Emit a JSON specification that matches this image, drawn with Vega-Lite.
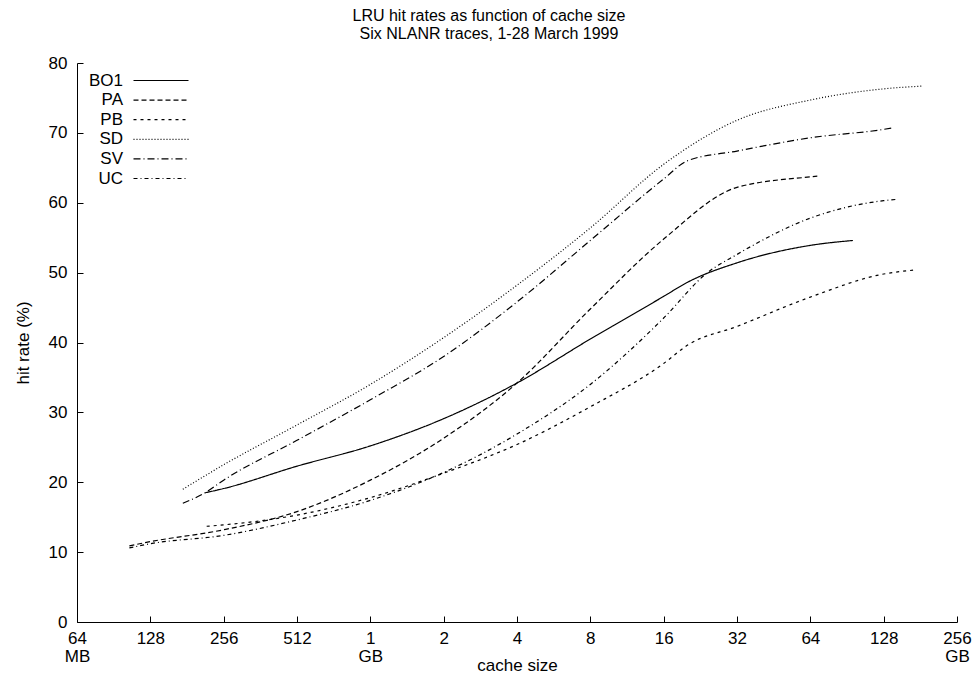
{
  "$schema": "https://vega.github.io/schema/vega-lite/v6.json",
  "width": 880,
  "height": 559,
  "autosize": {"type": "none"},
  "padding": {"left": 77, "top": 63, "right": 22, "bottom": 59},
  "background": "white",
  "config": {
    "view": {"stroke": null},
    "font": "Liberation Sans",
    "axis": {
      "grid": false,
      "domainColor": "black",
      "tickColor": "black",
      "labelColor": "black",
      "titleColor": "black",
      "labelFont": "Liberation Sans",
      "titleFont": "Liberation Sans",
      "labelFontSize": 17,
      "titleFontSize": 17,
      "titleFontWeight": "normal",
      "tickSize": -6,
      "domainWidth": 1,
      "tickWidth": 1
    }
  },
  "title": {
    "text": ["LRU hit rates as function of cache size", "Six NLANR traces, 1-28 March 1999"],
    "fontSize": 16,
    "fontWeight": "normal",
    "font": "Liberation Sans",
    "color": "black",
    "anchor": "middle",
    "dx": -28,
    "offset": 12,
    "lineHeight": 18
  },
  "data": {
    "values": [
      {"trace": "BO1", "size_mb": 215, "hit_rate": 18.5},
      {"trace": "BO1", "size_mb": 256, "hit_rate": 19.1},
      {"trace": "BO1", "size_mb": 512, "hit_rate": 22.3},
      {"trace": "BO1", "size_mb": 1024, "hit_rate": 25.2},
      {"trace": "BO1", "size_mb": 2048, "hit_rate": 29.1},
      {"trace": "BO1", "size_mb": 4096, "hit_rate": 34.2},
      {"trace": "BO1", "size_mb": 8192, "hit_rate": 40.5},
      {"trace": "BO1", "size_mb": 16384, "hit_rate": 46.6},
      {"trace": "BO1", "size_mb": 20480, "hit_rate": 48.6},
      {"trace": "BO1", "size_mb": 32768, "hit_rate": 51.4},
      {"trace": "BO1", "size_mb": 65536, "hit_rate": 53.9},
      {"trace": "BO1", "size_mb": 98000, "hit_rate": 54.6},

      {"trace": "PA", "size_mb": 105, "hit_rate": 10.9},
      {"trace": "PA", "size_mb": 128, "hit_rate": 11.5},
      {"trace": "PA", "size_mb": 256, "hit_rate": 13.2},
      {"trace": "PA", "size_mb": 512, "hit_rate": 15.8},
      {"trace": "PA", "size_mb": 1024, "hit_rate": 20.3},
      {"trace": "PA", "size_mb": 2048, "hit_rate": 26.3},
      {"trace": "PA", "size_mb": 4096, "hit_rate": 34.2},
      {"trace": "PA", "size_mb": 8192, "hit_rate": 44.8},
      {"trace": "PA", "size_mb": 16384, "hit_rate": 54.8},
      {"trace": "PA", "size_mb": 32768, "hit_rate": 62.2},
      {"trace": "PA", "size_mb": 65536, "hit_rate": 63.7},
      {"trace": "PA", "size_mb": 70000, "hit_rate": 63.8},

      {"trace": "PB", "size_mb": 218, "hit_rate": 13.7},
      {"trace": "PB", "size_mb": 256, "hit_rate": 13.9},
      {"trace": "PB", "size_mb": 512, "hit_rate": 15.3},
      {"trace": "PB", "size_mb": 1024, "hit_rate": 17.8},
      {"trace": "PB", "size_mb": 2048, "hit_rate": 21.3},
      {"trace": "PB", "size_mb": 4096, "hit_rate": 25.4},
      {"trace": "PB", "size_mb": 8192, "hit_rate": 30.8},
      {"trace": "PB", "size_mb": 16384, "hit_rate": 37.0},
      {"trace": "PB", "size_mb": 20480, "hit_rate": 39.6},
      {"trace": "PB", "size_mb": 32768, "hit_rate": 42.3},
      {"trace": "PB", "size_mb": 65536, "hit_rate": 46.5},
      {"trace": "PB", "size_mb": 131072, "hit_rate": 49.8},
      {"trace": "PB", "size_mb": 179000, "hit_rate": 50.4},

      {"trace": "SD", "size_mb": 174, "hit_rate": 19.0},
      {"trace": "SD", "size_mb": 256, "hit_rate": 22.5},
      {"trace": "SD", "size_mb": 512, "hit_rate": 28.2},
      {"trace": "SD", "size_mb": 1024, "hit_rate": 34.0},
      {"trace": "SD", "size_mb": 2048, "hit_rate": 40.7},
      {"trace": "SD", "size_mb": 4096, "hit_rate": 48.2},
      {"trace": "SD", "size_mb": 8192, "hit_rate": 56.4},
      {"trace": "SD", "size_mb": 16384, "hit_rate": 65.5},
      {"trace": "SD", "size_mb": 32768, "hit_rate": 71.8},
      {"trace": "SD", "size_mb": 65536, "hit_rate": 74.7},
      {"trace": "SD", "size_mb": 131072, "hit_rate": 76.3},
      {"trace": "SD", "size_mb": 190000, "hit_rate": 76.7},

      {"trace": "SV", "size_mb": 174, "hit_rate": 17.0},
      {"trace": "SV", "size_mb": 215, "hit_rate": 18.5},
      {"trace": "SV", "size_mb": 256, "hit_rate": 20.3},
      {"trace": "SV", "size_mb": 512, "hit_rate": 26.0},
      {"trace": "SV", "size_mb": 1024, "hit_rate": 31.8},
      {"trace": "SV", "size_mb": 2048, "hit_rate": 38.0},
      {"trace": "SV", "size_mb": 4096, "hit_rate": 45.8},
      {"trace": "SV", "size_mb": 8192, "hit_rate": 54.6},
      {"trace": "SV", "size_mb": 16384, "hit_rate": 63.4},
      {"trace": "SV", "size_mb": 20480, "hit_rate": 66.0},
      {"trace": "SV", "size_mb": 32768, "hit_rate": 67.4},
      {"trace": "SV", "size_mb": 65536, "hit_rate": 69.3},
      {"trace": "SV", "size_mb": 131072, "hit_rate": 70.5},
      {"trace": "SV", "size_mb": 142000, "hit_rate": 70.7},

      {"trace": "UC", "size_mb": 105, "hit_rate": 10.6},
      {"trace": "UC", "size_mb": 128, "hit_rate": 11.2},
      {"trace": "UC", "size_mb": 256, "hit_rate": 12.4},
      {"trace": "UC", "size_mb": 512, "hit_rate": 14.6},
      {"trace": "UC", "size_mb": 1024, "hit_rate": 17.4},
      {"trace": "UC", "size_mb": 2048, "hit_rate": 21.4},
      {"trace": "UC", "size_mb": 4096, "hit_rate": 26.9},
      {"trace": "UC", "size_mb": 8192, "hit_rate": 34.0},
      {"trace": "UC", "size_mb": 16384, "hit_rate": 43.5},
      {"trace": "UC", "size_mb": 24576, "hit_rate": 49.9},
      {"trace": "UC", "size_mb": 32768, "hit_rate": 52.6},
      {"trace": "UC", "size_mb": 65536, "hit_rate": 57.8},
      {"trace": "UC", "size_mb": 131072, "hit_rate": 60.3},
      {"trace": "UC", "size_mb": 150000, "hit_rate": 60.5}
    ]
  },
  "mark": {"type": "line", "interpolate": "monotone", "strokeWidth": 1.2, "color": "black"},
  "encoding": {
    "x": {
      "field": "size_mb",
      "type": "quantitative",
      "scale": {"type": "log", "base": 2, "domain": [64, 262144], "nice": false},
      "axis": {
        "title": "cache size",
        "values": [64, 128, 256, 512, 1024, 2048, 4096, 8192, 16384, 32768, 65536, 131072, 262144],
        "labelExpr": "datum.value == 64 ? ['64', 'MB'] : datum.value == 1024 ? ['1', 'GB'] : datum.value == 262144 ? ['256', 'GB'] : datum.value < 1024 ? format(datum.value, 'd') : format(datum.value / 1024, 'd')",
        "labelFlush": false,
        "labelOverlap": false,
        "labelPadding": 14,
        "labelLineHeight": 18,
        "labelBaseline": "top",
        "titleY": 35,
        "titleBaseline": "top"
      }
    },
    "y": {
      "field": "hit_rate",
      "type": "quantitative",
      "scale": {"domain": [0, 80], "nice": false},
      "axis": {
        "title": "hit rate (%)",
        "values": [0, 10, 20, 30, 40, 50, 60, 70, 80],
        "labelPadding": 16,
        "titlePadding": 16
      }
    },
    "strokeDash": {
      "field": "trace",
      "type": "nominal",
      "scale": {
        "domain": ["BO1", "PA", "PB", "SD", "SV", "UC"],
        "range": [[1, 0], [5, 3], [3, 4], [1, 2], [7, 3, 1, 3], [4, 3, 1, 3]]
      },
      "legend": {
        "orient": "none",
        "legendX": 36,
        "legendY": 9,
        "title": null,
        "symbolType": "M2.4,0H13.4",
        "symbolSize": 100,
        "symbolStrokeWidth": 1.2,
        "symbolStrokeColor": "black",
        "symbolFillColor": "transparent",
        "labelAlign": "right",
        "labelOffset": -7,
        "labelFontSize": 17,
        "labelFont": "Liberation Sans",
        "labelColor": "black",
        "rowPadding": 1.6
      }
    }
  }
}
